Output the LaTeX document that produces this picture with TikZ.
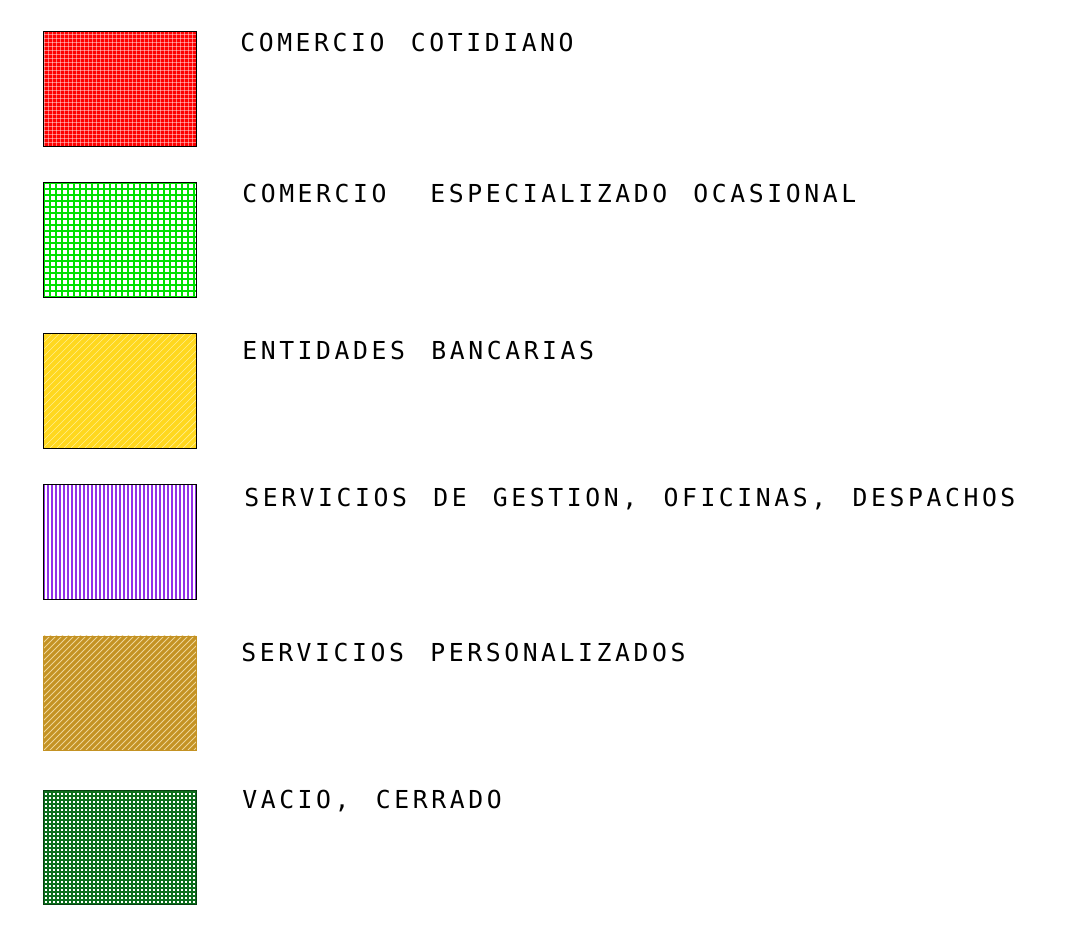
\documentclass[tikz,border=0pt]{standalone}
\usepackage{fontspec}
\newfontfamily\cadfont[LetterSpace=14.5,WordSpace=1.42]{DejaVu Sans Mono}
\usetikzlibrary{positioning}
\definecolor{rojocot}{RGB}{255,0,0}
\definecolor{verdeesp}{RGB}{0,225,0}
\definecolor{amarillo}{RGB}{255,216,30}
\definecolor{amarilloclaro}{RGB}{255,238,140}
\definecolor{morado}{RGB}{145,50,230}
\definecolor{ocre}{RGB}{196,146,35}
\definecolor{ocreclaro}{RGB}{238,212,150}
\definecolor{verdeosc}{RGB}{12,110,28}
\tikzset{
  legbox/.style={rectangle,draw=black,line width=0.7pt,inner sep=0pt,
                 minimum width=3.8cm,minimum height=2.85cm},
  legtext/.style={anchor=base west,inner sep=0pt,
                  font=\cadfont\fontsize{17.6}{20}\selectfont},
  % rejilla de lineas verticales y horizontales
  gridfill/.style n args={3}{path picture={
      \foreach \k in {0,#2,...,160} {
        \draw[#1,line width=#3]
          ([xshift=\k*0.025cm]path picture bounding box.south west) --
          ([xshift=\k*0.025cm]path picture bounding box.north west);
        \draw[#1,line width=#3]
          ([yshift=\k*0.025cm]path picture bounding box.south west) --
          ([yshift=\k*0.025cm]path picture bounding box.south east);
      }}},
  % solo lineas verticales
  vertfill/.style n args={3}{path picture={
      \foreach \k in {0,#2,...,160}
        \draw[#1,line width=#3]
          ([xshift=\k*0.025cm]path picture bounding box.south west) --
          ([xshift=\k*0.025cm]path picture bounding box.north west);
      }},
  % lineas a 45 grados (segundo valor de la lista)
  diagfill/.style n args={3}{path picture={
      \foreach \k in {-120,#2,...,160}
        \draw[#1,line width=#3]
          ([xshift=\k*0.025cm]path picture bounding box.south west) -- ++(3.2cm,3.2cm);
      }},
}

\begin{document}
\begin{tikzpicture}[x=0.025cm,y=-0.025cm]
  \useasboundingbox (0,0) rectangle (1073,928);

  \node[legbox,fill=rojocot,gridfill={white,opacity=0.45}{4}{0.35pt}] (cotidiano) at (120,89) {};
  \node[legtext] (txtcotidiano) at (240,51) {COMERCIO COTIDIANO};

  \node[legbox,fill=white,gridfill={verdeesp}{6}{1.1pt}] (ocasional) at (120,240) {};
  \node[legtext] (txtocasional) at (242,202) {COMERCIO\hspace{12.5pt} ESPECIALIZADO OCASIONAL};

  \node[legbox,fill=amarillo,diagfill={amarilloclaro}{-113}{0.5pt}] (bancarias) at (120,391) {};
  \node[legtext] (txtbancarias) at (242,359) {ENTIDADES BANCARIAS};

  \node[legbox,fill=white,vertfill={morado}{4}{1.5pt}] (gestion) at (120,542) {};
  \node[legtext] (txtgestion) at (244,506) {SERVICIOS DE GESTION, OFICINAS, DESPACHOS};

  \node[legbox,draw=ocre,fill=ocre,diagfill={ocreclaro}{-114}{0.6pt}] (personal) at (120,693) {};
  \node[legtext] (txtpersonal) at (241,661) {SERVICIOS PERSONALIZADOS};

  \node[legbox,draw=verdeosc!60!black,fill=white,gridfill={verdeosc}{4}{1.9pt}] (vacio) at (120,847) {};
  \node[legtext] (txtvacio) at (242,808) {VACIO, CERRADO};
\end{tikzpicture}
\end{document}
